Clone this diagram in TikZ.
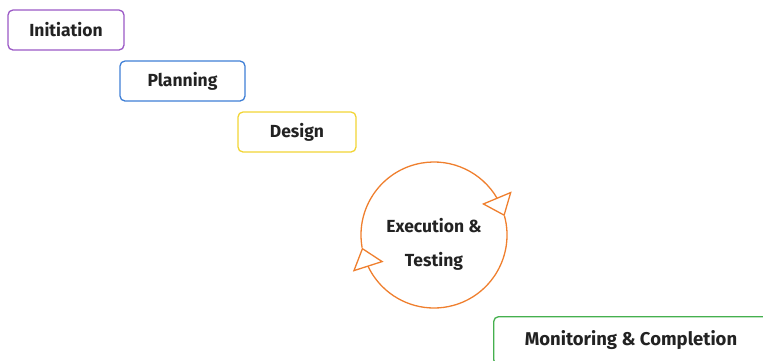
\documentclass[tikz,border=0pt]{standalone}
\usepackage{fontspec}
\setmainfont{Fira Sans}
\usetikzlibrary{arrows.meta,bending}
\definecolor{cpurple}{HTML}{9B59C6}
\definecolor{cblue}{HTML}{3F7FD6}
\definecolor{cyellow}{HTML}{F2D535}
\definecolor{corange}{HTML}{EF7F2E}
\definecolor{cgreen}{HTML}{45B04E}
\definecolor{ctext}{HTML}{222222}
\begin{document}
\begin{tikzpicture}[x=1pt,y=-1pt,
  stage/.style={draw=#1, line width=1.3pt, rounded corners=5pt, fill=white,
    font=\bfseries\fontsize{17.5}{20}\selectfont, text=ctext, inner sep=0pt},
  cyc/.style={draw=corange, line width=1.3pt,
    -{Triangle[open, flex, length=20pt, width=32pt, line width=1.3pt]}}]
\useasboundingbox (0,0) rectangle (763,360);
\node[stage=cpurple, minimum width=116pt, minimum height=40pt] (init) at (66,30) {Initiation};
\node[stage=cblue, minimum width=125pt, minimum height=40pt] (plan) at (182.5,81) {Planning};
\node[stage=cyellow, minimum width=118pt, minimum height=40pt] (design) at (297,132) {Design};
\coordinate (c) at (434,235);
\node[align=center, font=\bfseries\fontsize{17.5}{34}\selectfont, text=ctext] (exec) at (434,244) {Execution \&\\Testing};
\draw[cyc] ([shift={(190:73pt)}]c) arc[start angle=190, end angle=15, radius=73pt];
\draw[cyc] ([shift={(15:73pt)}]c) arc[start angle=15, end angle=-170, radius=73pt];
\node[stage=cgreen, minimum width=290pt, minimum height=48pt, anchor=north west] (mon) at (493,316) {};
\node[font=\bfseries\fontsize{18.5}{20}\selectfont, text=ctext] (montext) at (631,340) {Monitoring \& Completion};
\end{tikzpicture}
\end{document}
